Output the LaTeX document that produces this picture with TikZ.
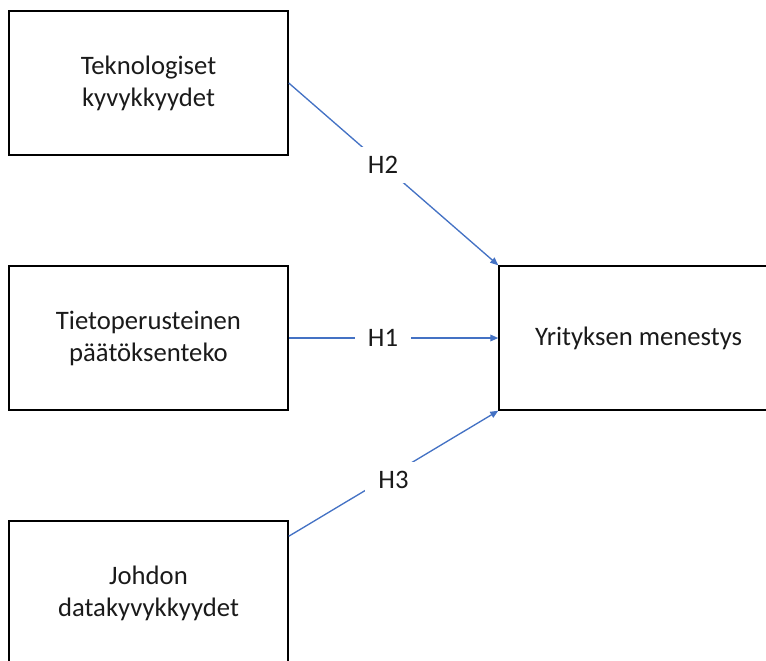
\documentclass[tikz,border=0pt]{standalone}
\usepackage{fontspec}
\setmainfont{Carlito}
\usetikzlibrary{arrows.meta,calc}
\definecolor{linkblue}{HTML}{4472C4}
\definecolor{txt}{HTML}{1A1A1A}
\begin{document}
\begin{tikzpicture}[x=0.75pt,y=-0.75pt,
 box/.style={draw=black, line width=1.1pt, minimum width=209.25pt, minimum height=108pt, align=center, font=\fontsize{20}{24}\selectfont, text=txt, inner sep=0pt},
 link/.style={draw=linkblue, line width=1pt, -{Triangle[length=6pt,width=5pt]}},
 hlabel/.style={fill=white, font=\fontsize{20}{24}\selectfont, text=txt, inner xsep=10pt, inner ysep=7pt}]
\useasboundingbox (0,0) rectangle (766,660);
\clip (0,0) rectangle (766,660);
\node[box] (tek) at (148.5,83) {Teknologiset\\kyvykkyydet};
\node[box] (tie) at (148.5,338) {Tietoperusteinen\\päätöksenteko};
\node[box] (joh) at (148.5,593) {Johdon\\datakyvykkyydet};
\node[box] (yri) at (638.5,338) {Yrityksen menestys};
\coordinate (jout) at ($(joh.north east)+(0,16)$);
\draw[link] (tek.east) -- node[hlabel, pos=0.45] {H2} (yri.north west);
\draw[link] (tie.east) -- node[hlabel, pos=0.45] {H1} (yri.west);
\draw[link] (jout) -- node[hlabel, pos=0.5, yshift=-5pt] {H3} (yri.south west);
\end{tikzpicture}
\end{document}
